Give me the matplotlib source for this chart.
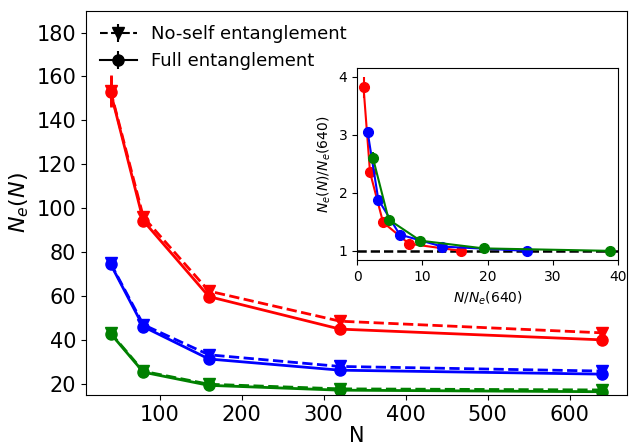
import numpy as np
import matplotlib
matplotlib.use("Agg")
import matplotlib.pyplot as plt

N = np.array([40, 80, 160, 320, 640])

# Full entanglement
red_full = np.array([153.0, 94.3, 59.8, 45.0, 40.1])
red_full_err = np.array([7.0, 1.5, 1.0, 0.8, 0.8])
blue_full = np.array([74.6, 46.1, 31.4, 26.3, 24.5])
blue_full_err = np.array([2.0, 1.2, 0.8, 0.6, 0.6])
green_full = np.array([43.0, 25.4, 19.4, 17.2, 16.5])
green_full_err = np.array([1.5, 0.8, 0.6, 0.5, 0.5])

# No-self entanglement
red_noself = np.array([153.5, 96.0, 62.3, 48.6, 43.3])
red_noself_err = np.array([7.0, 1.5, 1.0, 0.8, 0.8])
blue_noself = np.array([75.0, 47.0, 33.3, 28.0, 25.9])
blue_noself_err = np.array([2.0, 1.2, 0.8, 0.6, 0.6])
green_noself = np.array([43.3, 25.8, 19.9, 17.8, 17.3])
green_noself_err = np.array([1.5, 0.8, 0.6, 0.5, 0.5])

colors = ["red", "blue", "green"]
full = [red_full, blue_full, green_full]
full_err = [red_full_err, blue_full_err, green_full_err]
noself = [red_noself, blue_noself, green_noself]
noself_err = [red_noself_err, blue_noself_err, green_noself_err]

fig = plt.figure(figsize=(6.29, 4.47), dpi=100)
ax = fig.add_axes([0.1367, 0.1163, 0.860, 0.860])

for c, yf, ef, yn, en in zip(colors, full, full_err, noself, noself_err):
    ax.errorbar(N, yn, yerr=en, color=c, ls="--", marker="v", ms=8, lw=2, capsize=0)
    ax.errorbar(N, yf, yerr=ef, color=c, ls="-", marker="o", ms=8, lw=2, capsize=0)

# legend proxies
h1 = ax.errorbar([], [], yerr=[], color="black", ls="--", marker="v", ms=8, lw=1.5)
h2 = ax.errorbar([], [], yerr=[], color="black", ls="-", marker="o", ms=8, lw=1.5)
ax.legend([h1, h2], ["No-self entanglement", "Full entanglement"], loc="upper left",
          frameon=False, fontsize=13, borderaxespad=0.4, handlelength=2.0)

ax.set_xlim(10, 670)
ax.set_ylim(15, 190)
ax.set_yticks(np.arange(20, 181, 20))
ax.set_xticks([100, 200, 300, 400, 500, 600])
ax.tick_params(labelsize=15)
ax.set_xlabel("N", fontsize=15, labelpad=1)
ax.set_ylabel("$N_e(N)$", fontsize=16)

# inset
axi = fig.add_axes([0.5676, 0.418, 0.415, 0.43])
axi.axhline(1.0, color="black", ls="--", lw=1.8)
for c, yf, ef in zip(colors, full, full_err):
    ne640 = yf[-1]
    axi.errorbar(N / ne640, yf / ne640, yerr=ef / ne640, color=c, ls="-",
                 marker="o", ms=7, lw=1.5, capsize=0)
axi.set_xlim(0, 40)
axi.set_ylim(0.84, 4.15)
axi.set_xticks([0, 10, 20, 30, 40])
axi.set_yticks([1, 2, 3, 4])
axi.tick_params(labelsize=10)
axi.set_xlabel("$N/N_e(640)$", fontsize=10)
axi.set_ylabel("$N_e(N)/N_e(640)$", fontsize=10)

fig.savefig("out.png", dpi=100)
